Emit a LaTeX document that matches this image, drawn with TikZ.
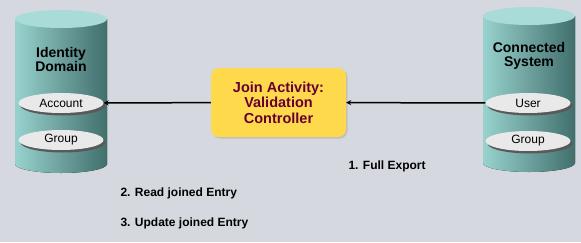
\documentclass[tikz,border=0pt]{standalone}
\usepackage{fontspec}
\setmainfont{Liberation Sans}
\usetikzlibrary{arrows.meta,positioning,shapes.geometric,shadows}
\definecolor{paper}{HTML}{D5D9DF}
\definecolor{cyltop}{HTML}{A9DCD8}
\definecolor{cyllight}{HTML}{98D2CE}
\definecolor{cyldark}{HTML}{416F6C}
\definecolor{pill}{HTML}{E9E9E9}
\definecolor{gold}{HTML}{FFD94C}
\definecolor{wine}{HTML}{660033}
\tikzset{
  recpill/.style={ellipse,fill=pill,minimum width=85pt,minimum height=20pt,inner sep=0pt,
    font=\fontsize{12}{13}\selectfont,
    drop shadow={shadow xshift=2pt,shadow yshift=-2.5pt,fill=black!65,opacity=1}},
  dblabel/.style={align=center,font=\fontsize{14}{14}\selectfont\bfseries},
  steplabel/.style={anchor=west,font=\fontsize{12}{13}\selectfont\bfseries},
  flow/.style={line width=1.5pt,-{Stealth[length=5pt,width=5pt]}}
}
\begin{document}
\begin{tikzpicture}[x=1pt,y=-1pt]
  \fill[paper] (0,0) rectangle (581,242);
  \useasboundingbox (0,0) rectangle (581,242);
  % the two data stores
  \foreach \cx/\ty/\by in {61/19/164,529/16/163} {
    \fill[left color=cyllight,right color=cyldark]
      (\cx-46,\ty) -- (\cx-46,\by)
      arc[start angle=180,end angle=0,x radius=46,y radius=9]
      -- (\cx+46,\ty) -- cycle;
    \fill[cyltop] (\cx,\ty) ellipse[x radius=46,y radius=9];
  }
  \node[dblabel] (idlbl) at (61,59) {Identity\\Domain};
  \node[dblabel] (cslbl) at (529,56) {Connected\\System};
  \node[recpill] (acct) at (61,103) {Account};
  \node[recpill] (idgrp) at (61,140) {Group};
  \node[recpill] (user) at (528,103) {User};
  \node[recpill] (csgrp) at (528,141) {Group};
  % join activity
  \node[fill=gold,rounded corners=8pt,minimum width=135pt,minimum height=69pt,align=center,
    text=wine,font=\fontsize{14.5}{15.5}\selectfont\bfseries,
    drop shadow={shadow xshift=1.5pt,shadow yshift=-1.5pt,fill=black!25,opacity=1}]
    (join) at (278.5,102.5) {Join Activity:\\Validation\\Controller};
  \draw[flow] (user) -- (join);
  \draw[flow] (join) -- (acct);
  \node[steplabel] (s1) at (345,166) {1. Full Export};
  \node[steplabel] (s2) at (117,193) {2. Read joined Entry};
  \node[steplabel] (s3) at (117,223) {3. Update joined Entry};
\end{tikzpicture}
\end{document}
